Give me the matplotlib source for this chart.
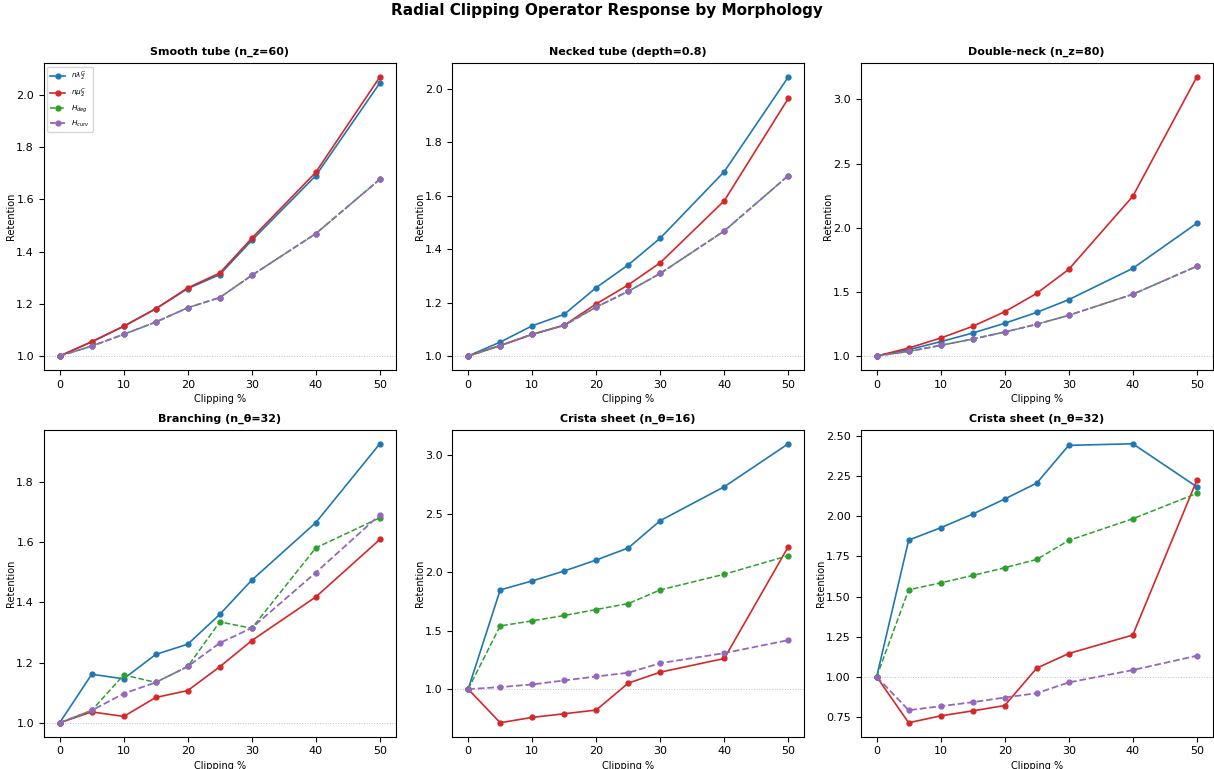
import numpy as np
import matplotlib.pyplot as plt

clip = [0, 5, 10, 15, 20, 25, 30, 40, 50]

titles = ["Smooth tube (n_z=60)", "Necked tube (depth=0.8)", "Double-neck (n_z=80)",
          "Branching (n_θ=32)", "Crista sheet (n_θ=16)", "Crista sheet (n_θ=32)"]

# n*lambda_2^G
lam = [
    [1.0, 1.054, 1.114, 1.181, 1.258, 1.312, 1.443, 1.691, 2.046],
    [1.0, 1.052, 1.113, 1.156, 1.256, 1.341, 1.441, 1.690, 2.044],
    [1.0, 1.049, 1.112, 1.179, 1.255, 1.340, 1.439, 1.683, 2.034],
    [1.0, 1.161, 1.146, 1.227, 1.261, 1.360, 1.474, 1.665, 1.927],
    [1.0, 1.849, 1.926, 2.011, 2.105, 2.208, 2.442, 2.732, 3.100],
    [1.0, 1.851, 1.928, 2.013, 2.107, 2.206, 2.441, 2.451, 2.183],
]
# n*mu_2^C
mu = [
    [1.0, 1.055, 1.114, 1.181, 1.261, 1.318, 1.451, 1.704, 2.069],
    [1.0, 1.039, 1.081, 1.115, 1.195, 1.266, 1.349, 1.581, 1.964],
    [1.0, 1.062, 1.140, 1.231, 1.345, 1.488, 1.675, 2.244, 3.174],
    [1.0, 1.036, 1.021, 1.084, 1.107, 1.186, 1.273, 1.418, 1.609],
    [1.0, 0.712, 0.758, 0.789, 0.821, 1.051, 1.145, 1.262, 2.219],
    [1.0, 0.714, 0.757, 0.788, 0.821, 1.054, 1.145, 1.260, 2.223],
]
# H_deg
hdeg = [
    [1.0, 1.038, 1.083, 1.130, 1.185, 1.224, 1.309, 1.469, 1.677],
    [1.0, 1.039, 1.081, 1.115, 1.183, 1.242, 1.309, 1.468, 1.675],
    [1.0, 1.036, 1.083, 1.132, 1.187, 1.247, 1.317, 1.481, 1.699],
    [1.0, 1.041, 1.159, 1.134, 1.187, 1.335, 1.314, 1.581, 1.681],
    [1.0, 1.541, 1.584, 1.630, 1.681, 1.732, 1.849, 1.983, 2.142],
    [1.0, 1.542, 1.585, 1.631, 1.679, 1.731, 1.849, 1.984, 2.142],
]
# H_curv
hcurv = [
    [1.0, 1.038, 1.083, 1.130, 1.185, 1.224, 1.309, 1.469, 1.677],
    [1.0, 1.039, 1.081, 1.115, 1.183, 1.242, 1.309, 1.468, 1.675],
    [1.0, 1.036, 1.083, 1.132, 1.187, 1.247, 1.317, 1.481, 1.699],
    [1.0, 1.041, 1.097, 1.134, 1.187, 1.265, 1.315, 1.499, 1.691],
    [1.0, 1.017, 1.040, 1.074, 1.108, 1.140, 1.222, 1.308, 1.419],
    [1.0, 0.792, 0.817, 0.842, 0.871, 0.898, 0.965, 1.042, 1.131],
]

fig, axes = plt.subplots(2, 3, figsize=(12.14, 7.69), dpi=100)
fig.subplots_adjust(left=0.036, right=0.999, top=0.918, bottom=0.042,
                    wspace=0.16, hspace=0.195)
fig.suptitle("Radial Clipping Operator Response by Morphology",
             fontsize=11, fontweight='bold', y=0.996)

for i, ax in enumerate(axes.flat):
    ax.axhline(1.0, color='gray', ls=':', lw=0.7, alpha=0.5)
    ax.plot(clip, lam[i], 'o-', color='tab:blue', ms=3.5, lw=1.2, label=r'$n\lambda_2^G$')
    ax.plot(clip, mu[i], 'o-', color='tab:red', ms=3.5, lw=1.2, label=r'$n\mu_2^C$')
    ax.plot(clip, hdeg[i], 'o--', color='tab:green', ms=3.5, lw=1.1, label=r'$H_{deg}$')
    ax.plot(clip, hcurv[i], 'o--', color='tab:purple', ms=3.5, lw=1.3, label=r'$H_{curv}$')
    ax.set_title(titles[i], fontsize=8, fontweight='bold')
    ax.set_xlabel('Clipping %', fontsize=7, labelpad=3)
    ax.set_ylabel('Retention', fontsize=7, labelpad=0)
    ax.tick_params(labelsize=8)
    if i == 0:
        ax.legend(fontsize=5.3, loc='upper left')

plt.savefig('out.png')
